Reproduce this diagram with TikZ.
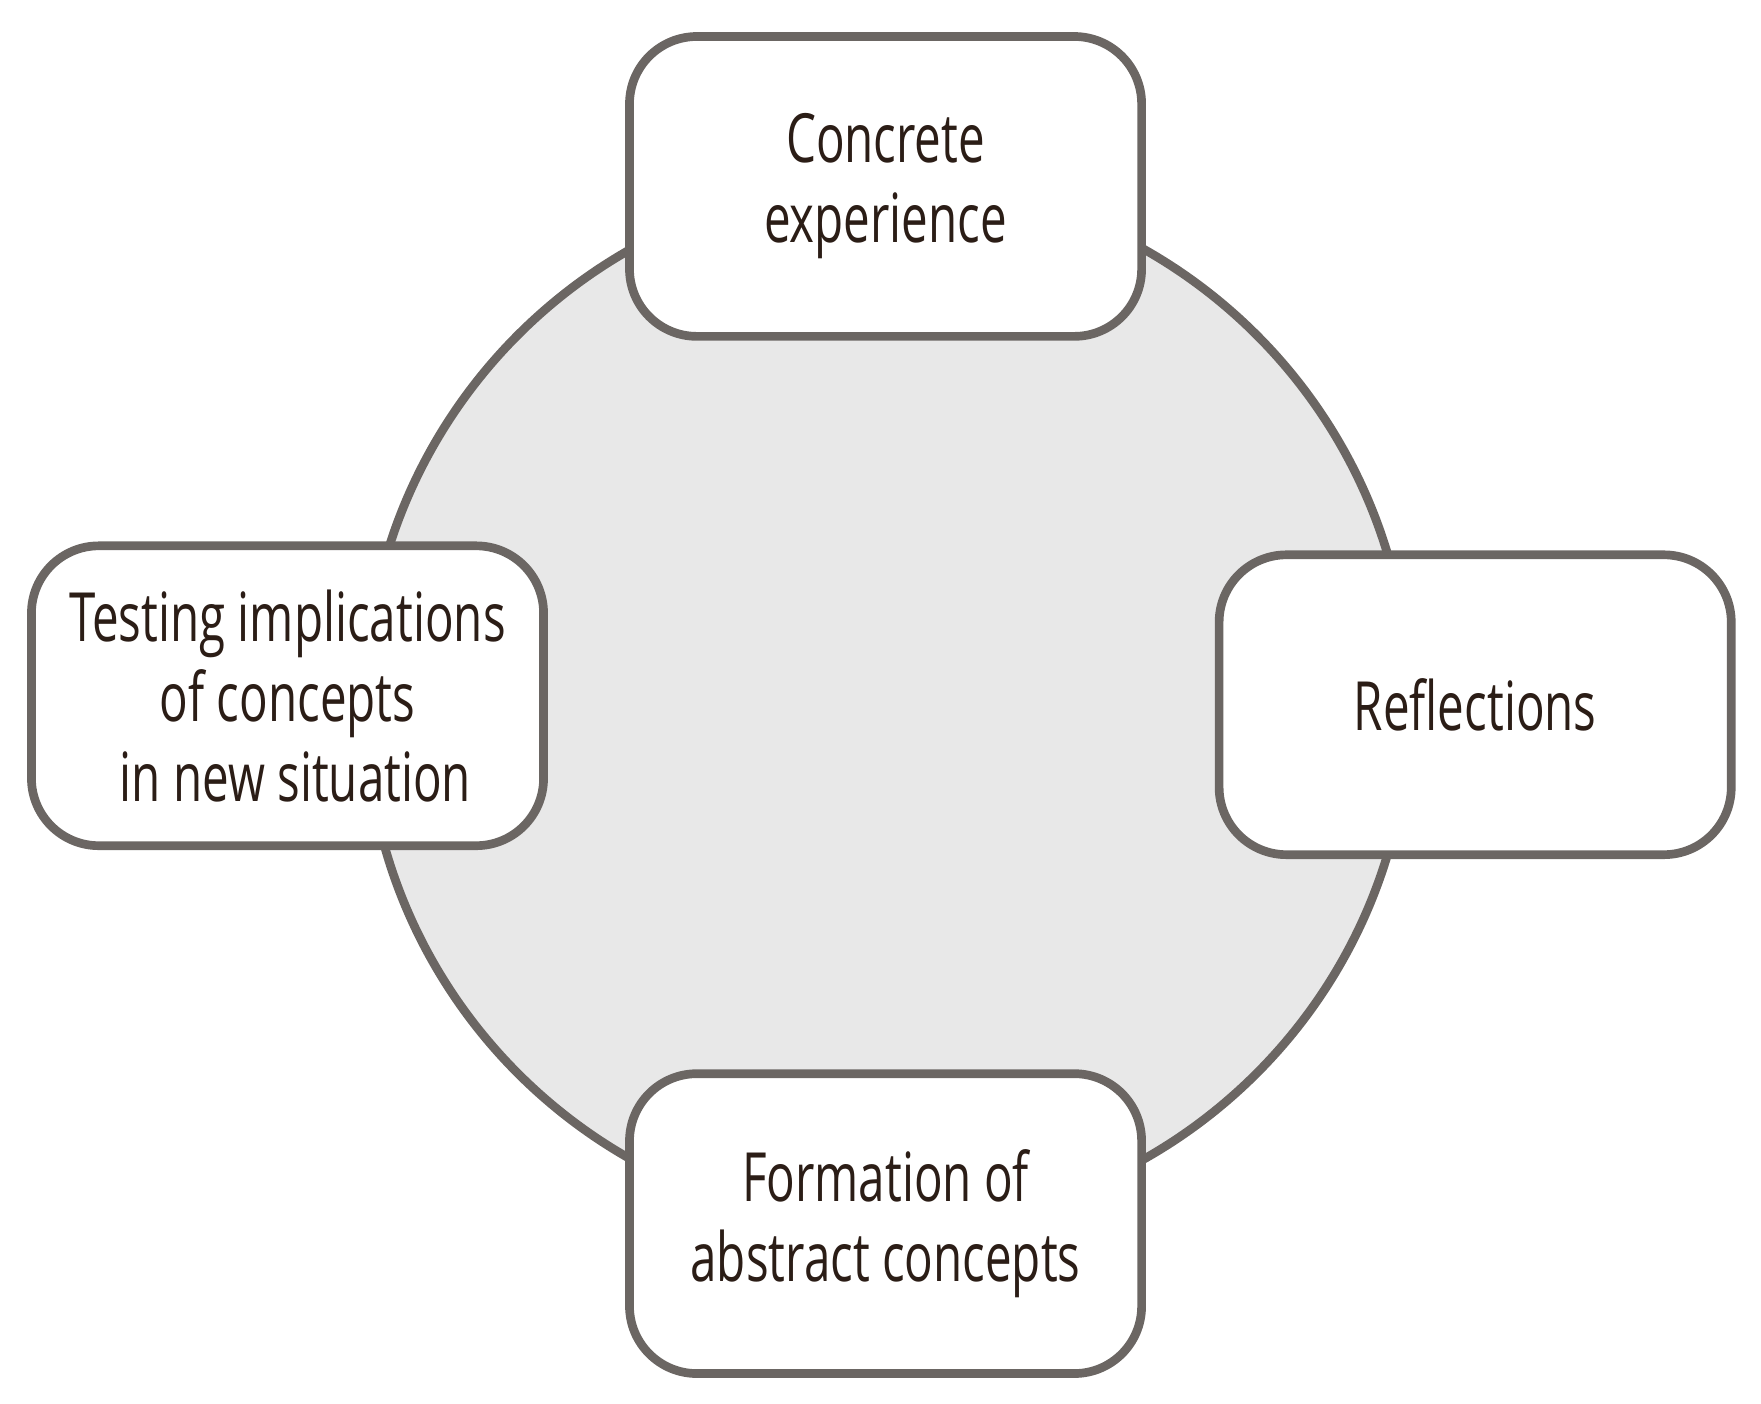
\documentclass[tikz,border=0pt]{standalone}
\usepackage{fontspec}
\setmainfont[FakeStretch=0.70]{Open Sans}
\definecolor{edgegray}{HTML}{6B6663}
\definecolor{ringfill}{HTML}{E8E8E8}
\definecolor{inkbrown}{HTML}{2B1D16}
\tikzset{
  stagebox/.style={draw=edgegray, line width=2.2pt, fill=white, rounded corners=0.6cm,
    minimum width=4.56cm, minimum height=2.67cm, align=center, text=inkbrown,
    font=\fontsize{17.2}{20.3}\selectfont, inner sep=0pt},
  ring/.style={circle, draw=edgegray, line width=2.2pt, fill=ringfill, minimum size=9.3cm, inner sep=0pt}
}
\begin{document}
\begin{tikzpicture}
\useasboundingbox (0,0) rectangle (15.68,-12.5);
\node[ring] (cycle) at (7.90,-6.27) {};
\node[stagebox] (concrete) at (7.885,-1.66) {Concrete\\experience};
\node[stagebox] (reflect) at (13.135,-6.275) {Reflections};
\node[stagebox] (testing) at (2.56,-6.195) {Testing implications\\of concepts\\\hspace*{0.14cm}in new situation};
\node[stagebox] (formation) at (7.885,-10.895) {Formation of\\abstract concepts};
\end{tikzpicture}
\end{document}
